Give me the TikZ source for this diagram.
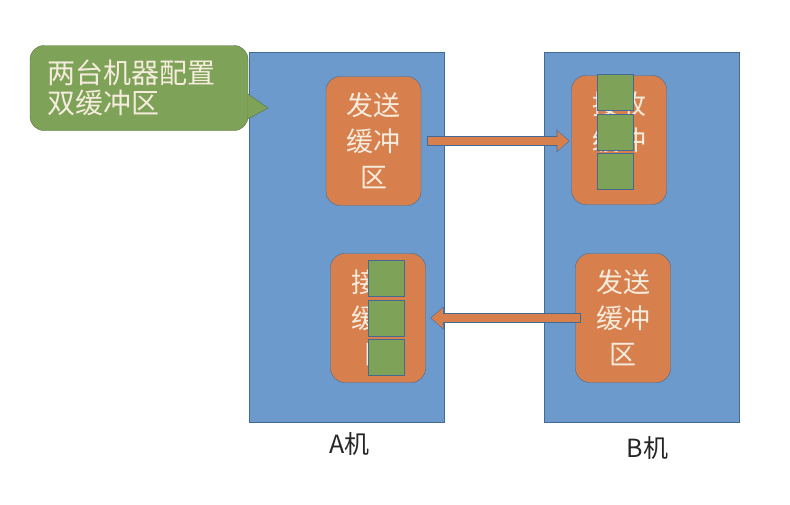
\documentclass[tikz,border=0pt]{standalone}
\usepackage{fontspec}
\setmainfont{Noto Sans CJK SC}
\usetikzlibrary{arrows.meta,positioning}
\definecolor{machblue}{RGB}{108,154,204}
\definecolor{lineblue}{RGB}{66,106,146}
\definecolor{bufor}{RGB}{215,128,78}
\definecolor{slotgreen}{RGB}{126,162,88}
\definecolor{txtcream}{RGB}{246,236,222}

\begin{document}
\begin{tikzpicture}[x=1pt,y=-1pt,node distance=10pt]
  \tikzstyle{every node}=[inner sep=0pt,outer sep=0pt]
  \tikzstyle{machine}=[draw=lineblue,fill=machblue,minimum width=195pt,minimum height=370pt]
  \tikzstyle{buffer}=[draw=lineblue,fill=bufor,rounded corners=14pt,text=txtcream,align=center,
                      font=\fontsize{27}{36}\selectfont,minimum width=95pt,minimum height=129pt]
  \tikzstyle{slot}=[draw=lineblue,fill=slotgreen,minimum width=36pt,minimum height=36pt]
  \tikzstyle{pipe}=[line width=10pt,draw=lineblue,-{Triangle[length=13pt,width=22pt]}]
  \tikzstyle{pipefill}=[line width=8.5pt,draw=bufor,-{Triangle[length=11.5pt,width=19.5pt]}]
  \tikzstyle{note}=[draw=slotgreen!70!black,fill=slotgreen,rounded corners=14pt,
                    text=txtcream,align=left,text width=184pt,inner xsep=17pt,minimum height=85pt,
                    font=\fontsize{28}{30}\selectfont]
  \tikzstyle{machlabel}=[font=\fontsize{25}{28}\selectfont,text=black!85]
\useasboundingbox (0,0) rectangle (790,504);

\node [machine] (A) at (346.5,237) {};
\node [machine] (B) at (641.5,237) {};

\node [buffer] (sendA) at (373.5,141) {发送\\缓冲\\区};
\node [buffer] (recvA) at (378,318) {接收\\缓冲\\区};
\node [buffer] (recvB) at (619,140) {接收\\缓冲\\区};
\node [buffer] (sendB) at (623,318) {发送\\缓冲\\区};

\node [slot] (slotB1) at (615.5,92) {};
\node [slot] (slotB2) at (615.5,132.5) {};
\node [slot] (slotB3) at (615.5,171) {};
\node [slot] (slotA1) at (386,278.5) {};
\node [slot] (slotA2) at (386,318.5) {};
\node [slot] (slotA3) at (386,357) {};

\draw [pipe,shorten <=6pt,shorten >=2pt] (sendA.east) -- (sendA.east -| recvB.west);
\draw [pipefill,shorten <=6.75pt,shorten >=2.75pt] (sendA.east) -- (sendA.east -| recvB.west);
\draw [pipe,shorten <=-5pt,shorten >=5pt] (sendB.west) -- (sendB.west -| recvA.east);
\draw [pipefill,shorten <=-4.25pt,shorten >=5.75pt] (sendB.west) -- (sendB.west -| recvA.east);

\node [note] (msg) at (139,88) {两台机器配置\\双缓冲区};
% pointer of the note
\coordinate (tip) at (268,108);
\fill [slotgreen] ([yshift=-6pt]msg.east) -- (tip) -- ([yshift=-31pt]msg.east) -- cycle;
\draw [slotgreen!70!black] ([yshift=-6pt]msg.east) -- (tip) -- ([yshift=-31pt]msg.east);

\node [machlabel,below=10pt of A,xshift=3pt] (labA) {A机};
\node [machlabel,below=14pt of B,xshift=6pt] (labB) {B机};

\end{tikzpicture}
\end{document}
